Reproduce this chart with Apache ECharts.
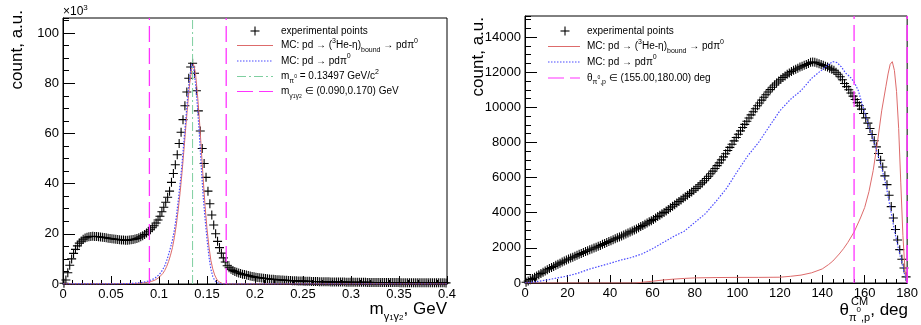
<!DOCTYPE html>
<html><head><meta charset="utf-8">
<script src="https://cdn.jsdelivr.net/npm/echarts@6/dist/echarts.min.js"></script>
<style>html,body{margin:0;padding:0;background:#fff}#c{width:921px;height:325px}</style>
</head><body><div id="c"></div>
<script>
// ---------- DATA (left panel: invariant mass, counts in 10^3) ----------
const massBinWidth = 0.002;
const expMass = [
 0.3,1.6,4.5,7.5,10.0,12.2,13.8,15.2,16.3,17.1,
 17.8,18.3,18.6,18.8,18.9,19.0,18.9,18.9,18.8,18.7,
 18.6,18.5,18.4,18.2,18.1,18.0,17.9,17.8,17.7,17.6,
 17.5,17.5,17.4,17.4,17.5,17.6,17.7,17.9,18.1,18.4,
 18.8,19.2,19.7,20.3,21.0,21.6,22.4,23.2,24.3,25.5,
 27.0,28.8,30.6,32.6,34.6,37.0,40.5,44.0,47.5,51.5,
 56.0,60.5,65.5,71.0,76.5,82.0,86.5,88.0,84.0,77.0,
 69.0,61.0,54.0,48.0,42.5,37.0,32.0,27.5,23.5,20.0,
 17.0,14.5,12.3,10.4,8.8,7.3,6.5,5.9,5.4,5.0,
 4.7,4.4,4.15,3.9,3.75,3.6,3.4,3.2,3.0,2.85,
 2.7,2.6,2.5,2.4,2.3,2.2,2.1,2.0,1.92,1.85,
 1.78,1.72,1.66,1.6,1.55,1.5,1.45,1.4,1.36,1.32,
 1.28,1.25,1.22,1.19,1.16,1.13,1.1,1.07,1.05,1.02,
 1.0,0.98,0.96,0.94,0.92,0.9,0.88,0.86,0.85,0.83,
 0.82,0.8,0.79,0.78,0.77,0.76,0.75,0.74,0.73,0.72,
 0.71,0.70,0.69,0.68,0.67,0.66,0.655,0.65,0.64,0.635,
 0.63,0.62,0.615,0.61,0.6,0.595,0.59,0.585,0.58,0.575,
 0.57,0.565,0.56,0.555,0.55,0.545,0.54,0.535,0.53,0.525,
 0.52,0.515,0.51,0.505,0.5,0.5,0.495,0.49,0.485,0.48,
 0.48,0.475,0.47,0.465,0.46,0.46,0.455,0.45,0.45,0.445
];
const mcMassX = [0,0.06,0.064,0.068,0.072,0.076,0.08,0.084,0.088,0.09,0.092,0.094,0.096,0.098,0.1,0.102,0.104,0.106,0.108,0.11,0.112,0.114,0.116,0.118,0.12,0.122,0.124,0.126,0.128,0.13,0.132,0.134,0.136,0.138,0.14,0.142,0.144,0.146,0.148,0.15,0.152,0.154,0.156,0.158,0.16,0.162,0.164,0.166,0.17,0.4];
const mcBoundMass = [0,0.05,0.08,0.12,0.16,0.22,0.3,0.45,0.65,0.8,1.0,1.25,1.6,2.0,2.6,3.3,4.2,5.4,7.0,9.0,11.5,14.5,18.5,23.5,29.5,36.5,44.5,53.5,63,72,80,85.5,87.5,84,76,66,54,42,31,22,15,9.5,6.0,3.6,2.0,1.0,0.5,0.2,0,0];
const mcPdpiMass = [0,0.1,0.15,0.2,0.25,0.35,0.5,0.75,1.1,1.3,1.6,1.9,2.4,3.0,3.7,4.6,5.8,7.3,9.3,11.8,14.5,17.5,21.5,26.5,33,40,48,57,66,75,82.5,87.5,86.5,80,71,60,47,35,26,18,11,6,3,1.5,0.6,0.25,0.1,0.05,0,0];
const piMass = 0.13497;
const massCut = [0.090, 0.170];
const massTicks = {min:0, max:0.4, step:0.05};
const countTicks = {min:0, max:106, step:20};

// ---------- DATA (right panel: theta CM, counts) ----------
const thetaBinWidth = 1;
const expTheta = [
 40,115,190,260,330,400,470,540,610,680,
 750,820,880,940,1010,1070,1130,1190,1250,1310,
 1360,1420,1470,1520,1580,1630,1680,1730,1790,1840,
 1890,1940,1990,2040,2090,2140,2200,2250,2300,2360,
 2410,2460,2520,2570,2620,2680,2730,2790,2850,2910,
 2960,3020,3080,3140,3210,3270,3340,3410,3480,3550,
 3620,3700,3780,3860,3940,4020,4100,4190,4280,4370,
 4460,4550,4640,4730,4820,4910,5000,5090,5180,5280,
 5380,5480,5590,5700,5820,5950,6080,6220,6370,6520,
 6680,6840,7010,7180,7360,7540,7720,7900,8090,8280,
 8470,8660,8850,9030,9210,9390,9570,9750,9920,10090,
 10250,10410,10570,10720,10870,11010,11140,11270,11390,11500,
 11600,11700,11790,11880,11960,12040,12110,12170,12230,12290,
 12340,12390,12440,12490,12560,12580,12560,12520,12480,12440,
 12390,12340,12290,12230,12170,12110,12000,11880,11740,11570,
 11360,11180,11000,10820,10640,10450,10270,10090,9900,9650,
 9400,9100,8800,8450,8100,7750,7370,6990,6600,6100,
 5600,5000,4350,3700,3050,2450,1900,1350,850,350
];
const mcPdpiThX = [0,5,10,15,20,25,30,35,40,45,50,55,60,65,70,75,80,85,90,95,100,105,110,115,120,125,130,135,140,143,145,147,149,151,153,155,157,159,162,165,168,170,172,174,176,178,179,180];
const mcPdpiTh  = [0,70,170,280,400,560,780,950,1120,1300,1450,1650,1950,2300,2650,2950,3450,3950,4650,5400,6350,7250,8000,8900,9800,10450,10950,11650,12150,12450,12600,12550,12300,11950,11750,11450,10950,10100,8900,7800,6550,5600,4300,3000,1900,900,400,0];
const mcBoundThX = [0,52,55,60,65,70,75,80,90,100,110,120,125,130,135,140,143,145,148,150,152,155,158,160,162,164,166,168,170,171,172,173,174,175,176,177,178,179,180];
const mcBoundTh  = [0,0,40,100,170,220,260,290,310,320,320,330,380,450,580,800,1050,1250,1650,1950,2300,2900,3700,4300,5200,6400,8000,9800,11200,11900,12450,12600,12100,10900,8800,5700,2700,700,0];
const thetaCut = [155, 180];
const thetaTicks = {min:0, max:180, step:20};
const countTicksR = {min:0, max:15200, step:2000};

// ---------- CHART ----------
const FONT = '"Liberation Sans", Arial, Helvetica, sans-serif';
const RED = '#dd6b6b', BLUE = '#4a4aff', GREEN = '#7fcfa0', MAG = '#ff33ff';
const chart = echarts.init(document.getElementById('c'));

const zip = (xs, ys) => xs.map((x, i) => [x, ys[i]]);
const binned = (vals, w) => vals.map((v, i) => [+((i + 0.5) * w).toFixed(5), v]);
const vline = (x, y0, y1) => [[x, y0], [x, y1]];

const plusSym = 'path://M0,4.4H10V5.6H0Z M4.4,0H5.6V10H4.4Z';

function xAx(g, t, minorSplit, fmt) {
  return {gridIndex:g, type:'value', min:t.min, max:t.max, interval:t.step,
    axisLine:{show:true, onZero:false, lineStyle:{color:'#000', width:1}},
    axisTick:{show:true, inside:true, length:8, lineStyle:{color:'#000', width:1}},
    minorTick:{show:true, splitNumber:minorSplit, length:4, lineStyle:{color:'#000', width:1}},
    splitLine:{show:false}, minorSplitLine:{show:false},
    axisLabel:{color:'#000', fontSize:13, fontFamily:FONT, margin:4, formatter:fmt}};
}
function yAx(g, t) {
  return {gridIndex:g, type:'value', position:'left', min:t.min, max:t.max, interval:t.step,
    axisLine:{show:true, onZero:false, lineStyle:{color:'#000', width:1}},
    axisTick:{show:true, inside:true, length:12, lineStyle:{color:'#000', width:1}},
    splitLine:{show:false},
    axisLabel:{color:'#000', fontSize:13, fontFamily:FONT, margin:4, showMaxLabel:false,
      formatter: v => (Math.abs(v / t.step - Math.round(v / t.step)) < 1e-6 ? String(v) : '')}};
}
function yMinor(g, t, step) {
  return {gridIndex:g, type:'value', position:'left', min:t.min, max:t.max, interval:step,
    axisLine:{show:false}, splitLine:{show:false}, axisLabel:{show:false},
    axisTick:{show:true, inside:true, length:6, lineStyle:{color:'#000', width:1}}};
}

const legRich = {
  n:{fontSize:10, fontFamily:FONT, lineHeight:16, verticalAlign:'middle', fill:'#000'},
  s:{fontSize:7, fontFamily:FONT, verticalAlign:'top', fill:'#000'},
  b:{fontSize:7, fontFamily:FONT, verticalAlign:'bottom', fill:'#000'},
  bb:{fontSize:5, fontFamily:FONT, verticalAlign:'bottom', fill:'#000'},
  bs:{fontSize:5, fontFamily:FONT, verticalAlign:'middle', fill:'#000'}
};
const titleRich = {
  N:{fontSize:17, fontFamily:FONT, lineHeight:26, verticalAlign:'middle', fill:'#000'},
  S:{fontSize:11, fontFamily:FONT, verticalAlign:'bottom', fill:'#000'},
  SS:{fontSize:8, fontFamily:FONT, verticalAlign:'bottom', fill:'#000'},
  SP:{fontSize:8, fontFamily:FONT, verticalAlign:'middle', fill:'#000'}
};

function legText(x, y, text) {
  return {type:'text', x:x, y:y, z:100, style:{text:text, rich:legRich, fontSize:10, fontFamily:FONT, fill:'#000', align:'left', verticalAlign:'middle'}};
}
function legLine(x1, x2, y, color, dash, w) {
  return {type:'line', z:100, shape:{x1:x1, y1:y, x2:x2, y2:y}, style:{stroke:color, lineWidth:w || 1, lineDash:dash || null}};
}
function legPlus(cx, cy) {
  return [
    {type:'line', z:100, shape:{x1:cx-4.5, y1:cy, x2:cx+4.5, y2:cy}, style:{stroke:'#000', lineWidth:1.1}},
    {type:'line', z:100, shape:{x1:cx, y1:cy-4.5, x2:cx, y2:cy+4.5}, style:{stroke:'#000', lineWidth:1.1}}
  ];
}

const yL = [31, 45.5, 61, 76.5, 91.5];
const yR = [31, 46.5, 62, 78];

const graphic = [
  ...legPlus(255, yL[0]),
  legText(281, yL[0], '{n|experimental points}'),
  legLine(237, 273, yL[1], RED),
  legText(281, yL[1], '{n|MC: pd → (}{s|3}{n|He-η)}{b|bound}{n| → pdπ}{s|0}'),
  legLine(237, 273, yL[2], BLUE, [1.5, 1.5], 1.2),
  legText(281, yL[2], '{n|MC: pd → pdπ}{s|0}'),
  legLine(237, 273, yL[3], GREEN, [9, 3, 2, 3]),
  legText(281, yL[3], '{n|m}{b|π}{bs|0}{n| = 0.13497 GeV/c}{s|2}'),
  legLine(237, 273, yL[4], MAG, [16, 6], 1.2),
  legText(281, yL[4], '{n|m}{b|γ}{bb|1}{b|γ}{bb|2}{n| ∈ (0.090,0.170) GeV}'),
  ...legPlus(565, yR[0]),
  legText(587, yR[0], '{n|experimental points}'),
  legLine(548, 580, yR[1], RED),
  legText(587, yR[1], '{n|MC: pd → (}{s|3}{n|He-η)}{b|bound}{n| → pdπ}{s|0}'),
  legLine(548, 580, yR[2], BLUE, [1.5, 1.5], 1.2),
  legText(587, yR[2], '{n|MC: pd → pdπ}{s|0}'),
  legLine(548, 580, yR[3], MAG, [16, 6], 1.2),
  legText(587, yR[3], '{n|θ}{b|π}{bs|0}{b|,p}{n| ∈ (155.00,180.00) deg}'),
  {type:'text', x:63, y:12, style:{text:'{e|×10}{x|3}', rich:{e:{fontSize:12, fontFamily:FONT, lineHeight:16, verticalAlign:'middle', fill:'#000'}, x:{fontSize:8, fontFamily:FONT, verticalAlign:'top', fill:'#000'}}, align:'left', verticalAlign:'middle'}},
  {type:'text', x:17, y:10, rotation:Math.PI/2, style:{text:'count, a.u.', fontSize:17, fontFamily:FONT, fill:'#000', align:'right', verticalAlign:'middle'}},
  {type:'text', x:478, y:17, rotation:Math.PI/2, style:{text:'count, a.u.', fontSize:17, fontFamily:FONT, fill:'#000', align:'right', verticalAlign:'middle'}},
  {type:'text', x:447, y:309, style:{text:'{N|m}{S|γ}{SS|1}{S|γ}{SS|2}{N|, GeV}', rich:titleRich, align:'right', verticalAlign:'middle'}},
  {type:'text', x:908, y:310, style:{text:'{N|θ}{S|π}{SP|0}{S|,p}{N|, deg}', rich:titleRich, align:'right', verticalAlign:'middle'}},
  {type:'text', x:851, y:302, style:{text:'CM', fontSize:11, fontFamily:FONT, fill:'#000', align:'left', verticalAlign:'middle'}}
];

const option = {
  animation:false,
  backgroundColor:'#fff',
  grid:[
    {left:63, top:18, width:384, height:266, show:true, borderColor:'#000', borderWidth:1, backgroundColor:'transparent'},
    {left:525, top:16, width:383, height:267, show:true, borderColor:'#000', borderWidth:1, backgroundColor:'transparent'}
  ],
  xAxis:[
    xAx(0, massTicks, 5, v => String(+v.toFixed(3))),
    xAx(1, thetaTicks, 4, v => String(Math.round(v)))
  ],
  yAxis:[
    yAx(0, countTicks), yMinor(0, countTicks, 5),
    yAx(1, countTicksR), yMinor(1, countTicksR, 500)
  ],
  series:[
    {type:'scatter', xAxisIndex:0, yAxisIndex:0, data:binned(expMass, massBinWidth), symbol:plusSym, symbolSize:9, itemStyle:{color:'#000', opacity:1}, z:2, silent:true},
    {type:'line', xAxisIndex:0, yAxisIndex:0, data:zip(mcMassX, mcBoundMass), showSymbol:false, symbol:'none', lineStyle:{color:RED, width:1}, z:3},
    {type:'line', xAxisIndex:0, yAxisIndex:0, data:zip(mcMassX, mcPdpiMass), showSymbol:false, symbol:'none', lineStyle:{color:BLUE, width:1.2, type:[1.5,1.5]}, z:4},
    {type:'line', xAxisIndex:0, yAxisIndex:0, data:vline(piMass, countTicks.min, countTicks.max), showSymbol:false, symbol:'none', lineStyle:{color:GREEN, width:1, type:[9,3,2,3]}, z:5},
    {type:'line', xAxisIndex:0, yAxisIndex:0, data:vline(massCut[0], countTicks.min, countTicks.max), showSymbol:false, symbol:'none', lineStyle:{color:MAG, width:1.3, type:[16,6]}, z:5},
    {type:'line', xAxisIndex:0, yAxisIndex:0, data:vline(massCut[1], countTicks.min, countTicks.max), showSymbol:false, symbol:'none', lineStyle:{color:MAG, width:1.3, type:[16,6]}, z:5},

    {type:'scatter', xAxisIndex:1, yAxisIndex:2, data:binned(expTheta, thetaBinWidth), symbol:plusSym, symbolSize:9, itemStyle:{color:'#000', opacity:1}, z:2, silent:true},
    {type:'line', xAxisIndex:1, yAxisIndex:2, data:zip(mcBoundThX, mcBoundTh), showSymbol:false, symbol:'none', lineStyle:{color:RED, width:1}, z:3},
    {type:'line', xAxisIndex:1, yAxisIndex:2, data:zip(mcPdpiThX, mcPdpiTh), showSymbol:false, symbol:'none', lineStyle:{color:BLUE, width:1.2, type:[1.5,1.5]}, z:4},
    {type:'line', xAxisIndex:1, yAxisIndex:2, data:vline(thetaCut[0], countTicksR.min, countTicksR.max), showSymbol:false, symbol:'none', lineStyle:{color:MAG, width:1.3, type:[16,6]}, z:5},
    {type:'line', xAxisIndex:1, yAxisIndex:2, data:vline(thetaCut[1], countTicksR.min, countTicksR.max), showSymbol:false, symbol:'none', lineStyle:{color:MAG, width:1.6, type:[16,6]}, z:5}
  ],
  graphic: graphic
};
chart.setOption(option);
</script></body></html>
